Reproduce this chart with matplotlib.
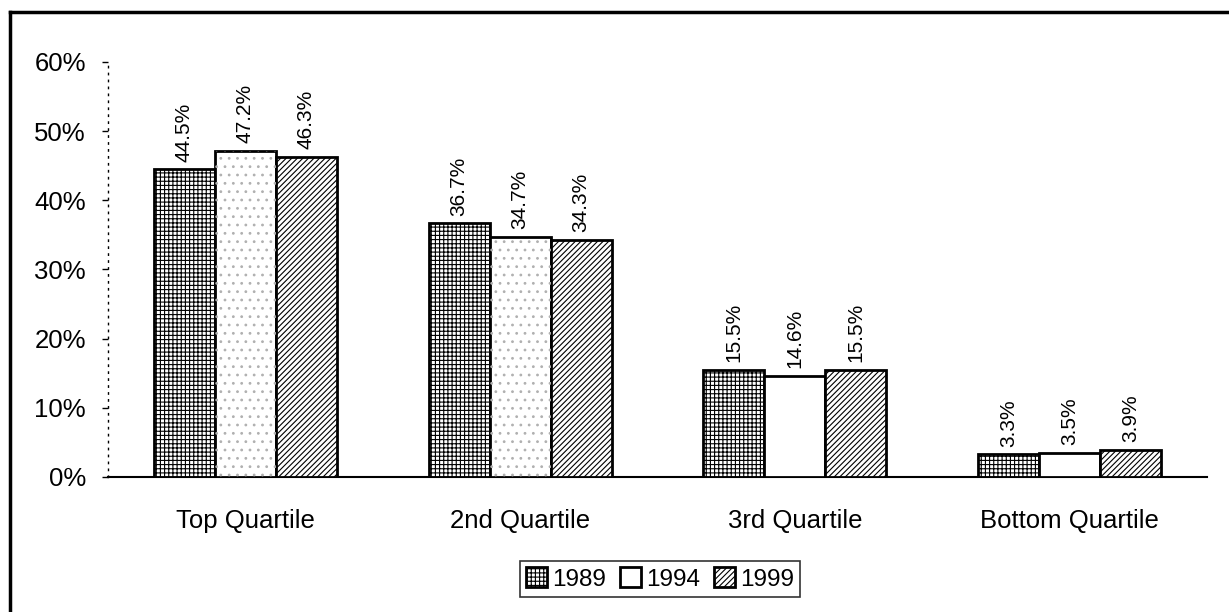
import matplotlib
matplotlib.use("Agg")
import matplotlib.pyplot as plt
import numpy as np
from matplotlib.lines import Line2D

# data
categories = ["Top Quartile", "2nd Quartile", "3rd Quartile", "Bottom Quartile"]
years = ["1989", "1994", "1999"]
v1989 = [44.5, 36.7, 15.5, 3.3]
v1994 = [47.2, 34.7, 14.6, 3.5]
v1999 = [46.3, 34.3, 15.5, 3.9]
yticks = [0, 10, 20, 30, 40, 50, 60]

plt.rcParams["font.family"] = ["Liberation Sans", "DejaVu Sans"]
plt.rcParams["hatch.linewidth"] = 0.8

fig = plt.figure(figsize=(12.29, 6.12), dpi=100)
ax = fig.add_axes([0.0879, 0.2206, 0.8941, 0.6781])

x = np.arange(len(categories))
w = 0.222
series = [v1989, v1994, v1999]
hatches = ["++++", "", "//////"]

for i, (vals, yr, h) in enumerate(zip(series, years, hatches)):
    pos = x + (i - 1) * w
    bars = ax.bar(pos, vals, width=w, color="white", edgecolor="black",
                  linewidth=2, hatch=h, label=yr, zorder=3)
    for b, v in zip(bars, vals):
        ax.text(b.get_x() + b.get_width() / 2, v + 1.1, f"{v:.1f}%",
                rotation=90, ha="center", va="bottom", fontsize=15)

# speckled scan texture on the 1994 bars of the first two groups
for j in range(2):
    ax.bar(x[j], v1994[j], width=w, color="none", edgecolor="#b0b0b0",
           linewidth=0, hatch="..", zorder=3.5)

ax.set_xlim(-0.5, 3.5)
ax.set_ylim(0, 60)
ax.set_yticks(yticks)
ax.set_yticklabels([f"{t}%" for t in yticks], fontsize=18.5)
ax.set_xticks(x)
ax.set_xticklabels(categories, fontsize=18.5)
ax.tick_params(axis="x", length=0, pad=23)
ax.tick_params(axis="y", length=4, width=1, direction="out", pad=12)

for s in ["top", "right"]:
    ax.spines[s].set_visible(False)
ax.spines["left"].set_linestyle((0, (1, 4)))
ax.spines["left"].set_linewidth(1)
ax.spines["bottom"].set_linewidth(1.5)

leg = fig.legend(loc="center", bbox_to_anchor=(0.537, 0.054), ncol=3,
                 fontsize=17.5, frameon=True, fancybox=False, edgecolor="black",
                 handlelength=0.85, handleheight=0.85, handletextpad=0.2,
                 columnspacing=0.6, borderpad=0.25)
leg.get_frame().set_linewidth(1.2)

# outer frame (top and left edges visible in the scan)
fig.add_artist(Line2D([0.008, 0.008], [0.0, 0.981], color="black", lw=2.5,
                      transform=fig.transFigure))
fig.add_artist(Line2D([0.008, 1.0], [0.981, 0.981], color="black", lw=2.5,
                      transform=fig.transFigure))

fig.savefig("out.png", dpi=100)
